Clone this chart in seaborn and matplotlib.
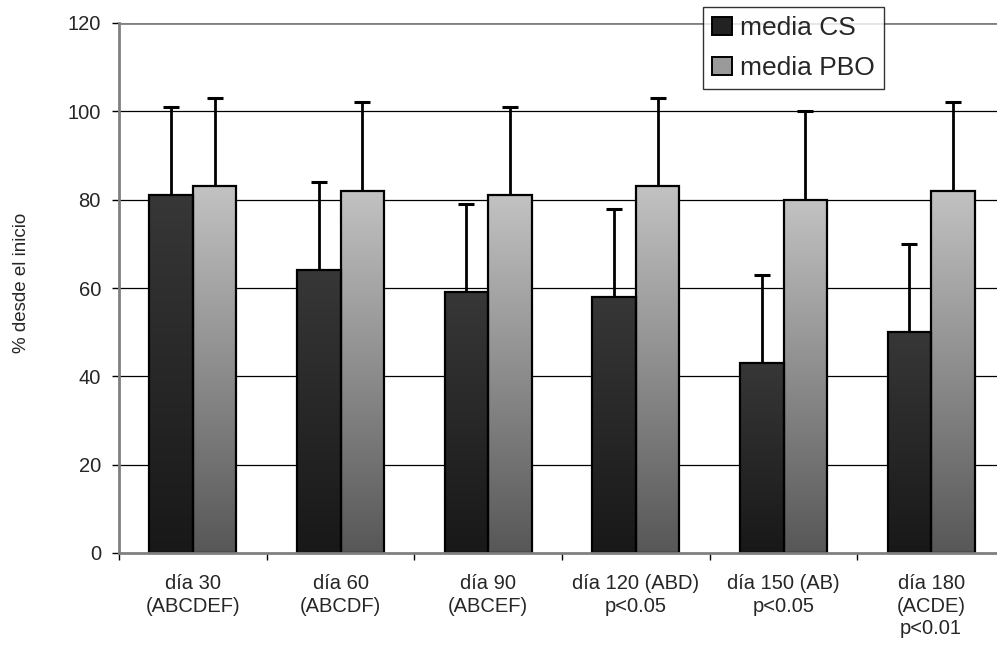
import numpy as np
import pandas as pd
import matplotlib
matplotlib.use("Agg")
import matplotlib.pyplot as plt
from matplotlib.colors import LinearSegmentedColormap
from matplotlib.patches import Patch
import seaborn as sns

# Datos
dias = ["día 30\n(ABCDEF)", "día 60\n(ABCDF)", "día 90\n(ABCEF)",
        "día 120 (ABD)\np<0.05", "día 150 (AB)\np<0.05", "día 180\n(ACDE)\np<0.01"]
series = ["media CS", "media PBO"]
media_cs = [81, 64, 59, 58, 43, 50]
media_pbo = [83, 82, 81, 83, 80, 82]
de_cs = [20, 20, 20, 20, 20, 20]
de_pbo = [20, 20, 20, 20, 20, 20]
yticks = [0, 20, 40, 60, 80, 100, 120]

df = pd.DataFrame({
    "dia": dias * 2,
    "serie": [series[0]] * len(dias) + [series[1]] * len(dias),
    "media": media_cs + media_pbo,
})

sns.set_style("white")
plt.rcParams["font.family"] = ["Liberation Sans", "DejaVu Sans"]

fig = plt.figure(figsize=(9.97, 6.49), dpi=100)
ax = fig.add_axes([119 / 997, 96 / 649, 886 / 997, 530 / 649])

sns.barplot(data=df, x="dia", y="media", hue="serie", order=dias, hue_order=series,
            palette=["#262626", "#8c8c8c"], width=0.59, errorbar=None,
            edgecolor="black", linewidth=1.6, legend=False, ax=ax, zorder=3)

# degradados de las barras
grad = {0: ("#373737", "#181818"), 1: ("#c2c2c2", "#575757")}
for i, cont in enumerate(ax.containers):
    cmap = LinearSegmentedColormap.from_list("g%d" % i, [grad[i][1], grad[i][0]])
    for p in cont.patches:
        x, w, h = p.get_x(), p.get_width(), p.get_height()
        im = ax.imshow(np.linspace(0, 1, 256).reshape(-1, 1), cmap=cmap, origin="lower",
                       extent=[x, x + w, 0, h], aspect="auto", zorder=2.9)
        im.set_clip_path(p)
        p.set_facecolor("none")

# barras de error (solo hacia arriba)
for cont, sd in zip(ax.containers, [de_cs, de_pbo]):
    xs = [p.get_x() + p.get_width() / 2 for p in cont.patches]
    hs = [p.get_height() for p in cont.patches]
    _, caps, _ = ax.errorbar(xs, hs, yerr=[np.zeros(len(sd)), sd], fmt="none",
                             ecolor="black", elinewidth=2, capsize=6, capthick=2.2, zorder=2.5)
    caps[0].set_visible(False)

ax.set_xlim(-0.5, len(dias) - 0.5)
ax.set_ylim(0, 120)
ax.set_yticks(yticks)
for yv in yticks[1:-1]:
    ax.axhline(yv, color="black", lw=0.9, zorder=1)
ax.axhline(120, color="#808080", lw=2, zorder=1)

ax.set_xlabel("")
ax.set_ylabel("% desde el inicio", fontsize=13.5)
ax.yaxis.set_label_coords(-0.100, 0.51)

ax.set_xticks(range(len(dias)))
ax.set_xticklabels(dias, fontsize=14.5, linespacing=1.25, va="top")
ax.set_xticks(np.arange(-0.5, len(dias), 1), minor=True)
ax.tick_params(axis="x", which="major", length=0, pad=15)
ax.tick_params(axis="x", which="minor", length=5, width=1, color="black", direction="out", bottom=True)
ax.tick_params(axis="y", length=5, width=1, color="black", direction="out", left=True,
               labelsize=14.5, pad=8)

for s in ["top", "right"]:
    ax.spines[s].set_visible(False)
for s in ["left", "bottom"]:
    ax.spines[s].set_color("#808080")
    ax.spines[s].set_linewidth(2)
    ax.spines[s].set_zorder(4)

handles = [Patch(facecolor="#222222", edgecolor="black", lw=1.4),
           Patch(facecolor="#9a9a9a", edgecolor="black", lw=1.4)]
leg = ax.legend(handles, series, loc="upper right", bbox_to_anchor=(0.863, 1.03),
                borderaxespad=0, fontsize=19, frameon=True, fancybox=False,
                handlelength=0.75, handleheight=0.7, handletextpad=0.3,
                borderpad=0.35, labelspacing=0.6)
leg.get_frame().set_edgecolor("black")
leg.get_frame().set_linewidth(1)
leg.set_zorder(5)

fig.savefig("out.png", dpi=100)
